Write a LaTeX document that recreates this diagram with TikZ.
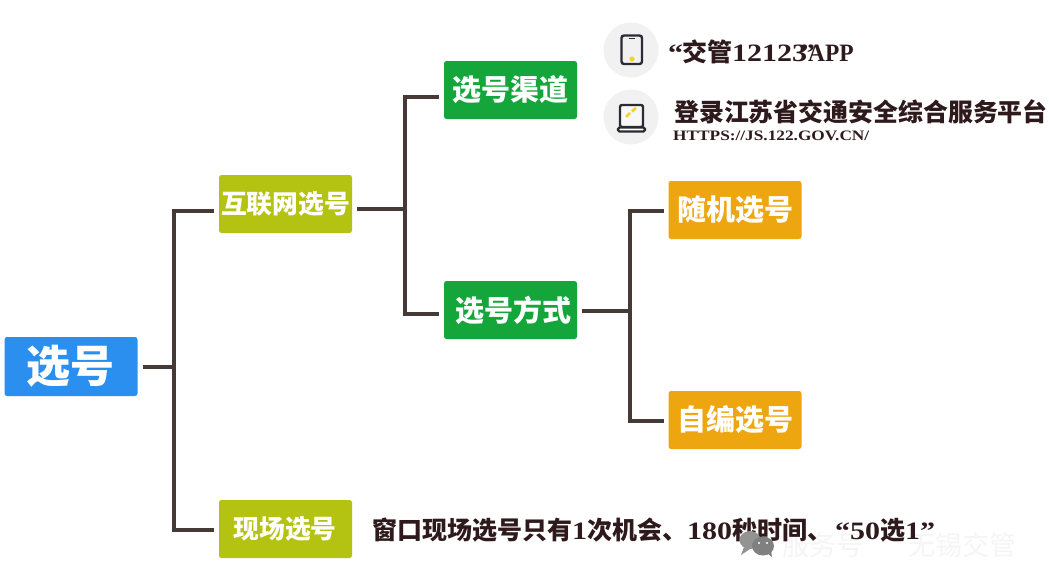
\documentclass[tikz,border=0pt]{standalone}
\usepackage{fontspec}
\setmainfont{Liberation Serif}[FakeStretch=1.2]
\newfontfamily\cjk{Noto Sans CJK SC}
\definecolor{linec}{HTML}{453A36}
\definecolor{inkc}{HTML}{2E1A1C}
\definecolor{bluec}{HTML}{2A8FEF}
\definecolor{limec}{HTML}{B4C212}
\definecolor{greenc}{HTML}{14A63A}
\definecolor{orangec}{HTML}{EDA60F}
\definecolor{iconbg}{HTML}{F1F1F2}
\definecolor{iconc}{HTML}{2B2B33}
\definecolor{dotc}{HTML}{F5D327}
\tikzset{
  box/.style={rounded corners=2.5pt,minimum height=58pt,text=white,inner sep=0pt,font=\cjk\bfseries},
  wbox/.style={box,minimum width=133pt},
  conn/.style={draw=linec,line width=3.4pt},
  ink/.style={text=inkc,inner sep=0pt,anchor=west,font=\bfseries},
  icondraw/.style={draw=iconc,line width=2.4pt},
}
\begin{document}
\begin{tikzpicture}[x=1pt,y=-1pt]
\useasboundingbox[fill=white] (0,0) rectangle (1049,584);
% boxes
\node[wbox,fill=bluec,minimum height=59pt,font=\cjk\bfseries\fontsize{44}{48}\selectfont] (root) at (71,366.5) {选号};
\node[wbox,fill=limec,font=\cjk\bfseries\fontsize{25.8}{28}\selectfont] (net) at (285.5,204) {互联网选号};
\node[wbox,fill=limec,font=\cjk\bfseries\fontsize{25.8}{28}\selectfont] (site) at (285.5,529) {\kern-1pt现场选号};
\node[wbox,fill=greenc,font=\cjk\bfseries\fontsize{29}{32}\selectfont] (chan) at (510.5,90) {选号渠道};
\node[wbox,fill=greenc,font=\cjk\bfseries\fontsize{29}{32}\selectfont] (way) at (510.5,310) {\kern5pt选号方式};
\node[wbox,fill=orangec,font=\cjk\bfseries\fontsize{29}{32}\selectfont] (rand) at (735,210) {随机选号};
\node[wbox,fill=orangec,font=\cjk\bfseries\fontsize{29}{32}\selectfont] (self) at (735,420) {自编选号};
% junctions
\coordinate (j1) at (174,367);
\coordinate (j1s) at (143,367);
\coordinate (j1a) at (214,211);
\coordinate (j1b) at (214,530);
\coordinate (j2) at (405,209);
\coordinate (j2s) at (357,209);
\coordinate (j2a) at (439,97);
\coordinate (j2b) at (439,314);
\coordinate (j3) at (630,311);
\coordinate (j3s) at (582,311);
\coordinate (j3a) at (664,211);
\coordinate (j3b) at (664,421);
% connectors
\draw[conn] (j1s) -- (j1);
\draw[conn] (j1a) -| (j1) |- (j1b);
\draw[conn] (j2s) -- (j2);
\draw[conn] (j2a) -| (j2) |- (j2b);
\draw[conn] (j3s) -- (j3);
\draw[conn] (j3a) -| (j3) |- (j3b);
% icons
\fill[iconbg] (631,50) circle (27.5);
\fill[iconbg] (631,117) circle (27.5);
\draw[icondraw,rounded corners=2.5pt] (621.5,35.5) rectangle (642,64);
\draw[iconc,line width=1.6pt] (628.5,38.5) -- (635,38.5);
\fill[dotc] (632,59) circle (2.6);
\draw[icondraw,rounded corners=2pt,fill=iconbg!60!white] (620,127) -- (620,105) -- (643,105) -- (643,127) -- cycle;
\draw[icondraw,rounded corners=1.5pt,fill=white] (618,127.5) rectangle (645,131.5);
\draw[dotc,line width=2.8pt] (626,117) -- (630,113);
\draw[dotc,line width=2.8pt] (632,111.5) -- (636,108);
% watermark text beneath the note
\node[text=black!4,inner sep=0pt,anchor=west,font=\cjk\fontsize{27}{29}\selectfont] (wm) at (782,545) {服务号\kern45pt无锡交管};
% text
\node[ink,font=\bfseries\fontsize{25}{28}\selectfont] (app) at (668,52) {“\kern-1pt{\cjk 交管}12123\kern-7pt”\kern-7pt\scalebox{0.78}[1]{APP}};
\node[ink,font=\cjk\bfseries\fontsize{24.9}{30}\selectfont] (plat) at (674,112) {登录江苏省交通安全综合服务平台};
\node[ink,font=\bfseries\fontsize{14.4}{16}\selectfont] (url) at (673,136) {HTTPS://JS.122.GOV.CN/};
\node[ink,font=\fontsize{25}{28}\selectfont\bfseries] (note) at (372,530) {{\cjk 窗口现场选号只有}1{\cjk 次机会、}180{\cjk 秒时间、}\kern3pt“50{\cjk 选}1”};
% watermark icon
\fill[gray!85] (750,540) ellipse (10.5 and 9);
\fill[gray!85] (744,547) -- (741,555) -- (750,549) -- cycle;
\fill[gray] (763,546) ellipse (11 and 9.5);
\fill[gray] (767,553) -- (772,557) -- (771,550) -- cycle;
\fill[white] (759,543) circle (1.2);
\fill[white] (767,543) circle (1.2);
\end{tikzpicture}
\end{document}
